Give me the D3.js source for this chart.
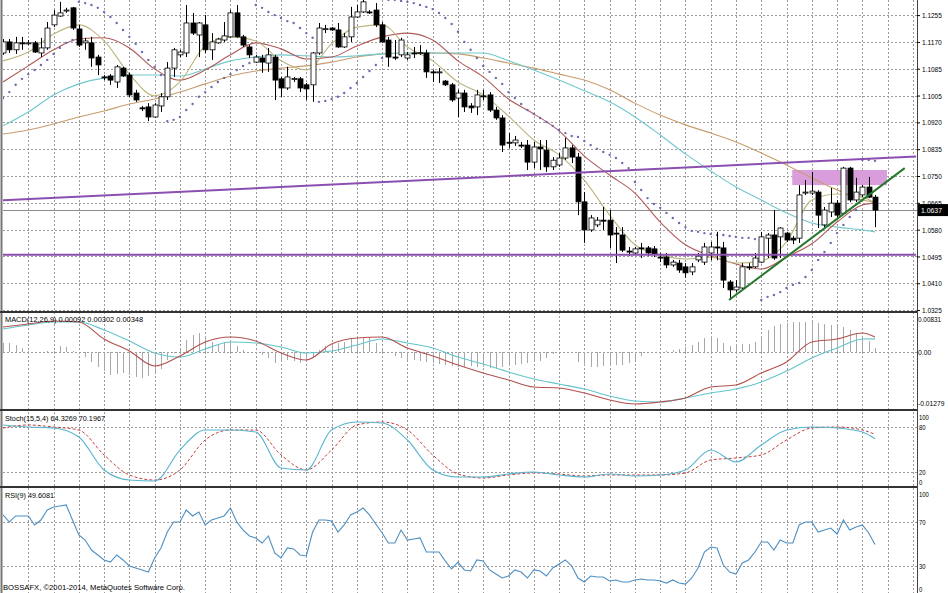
<!DOCTYPE html>
<html>
<head>
<meta charset="utf-8">
<script src="https://cdn.jsdelivr.net/npm/d3@7"></script>
<style>
  body{margin:0;background:#fff;}
  svg{display:block;}
  text{font-family:"Liberation Sans",Arial,sans-serif;font-size:8px;fill:#000;}
</style>
</head>
<body>
<svg width="948" height="593"></svg>
<script>

// candles [open, high, low, close]
const candles=[
[1.1135,1.1179,1.1129,1.1170],[1.1170,1.1179,1.1135,1.1145],[1.1145,1.1186,1.1132,1.1167],[1.1167,1.1186,1.1145,1.1166],
[1.1166,1.1176,1.1160,1.1167],[1.1167,1.1173,1.1135,1.1138],[1.1135,1.1183,1.1122,1.1151],[1.1151,1.1233,1.1145,1.1214],
[1.1224,1.1271,1.1217,1.1255],[1.1252,1.1297,1.1249,1.1262],[1.1268,1.1278,1.1262,1.1271],[1.1278,1.1281,1.1208,1.1214],
[1.1211,1.1224,1.1154,1.1160],[1.1167,1.1183,1.1145,1.1173],[1.1167,1.1186,1.1091,1.1119],[1.1122,1.1129,1.1065,1.1097],
[1.1059,1.1065,1.1049,1.1058],[1.1062,1.1068,1.1034,1.1049],[1.1043,1.1097,1.1024,1.1091],[1.1087,1.1091,1.1059,1.1062],
[1.1065,1.1072,1.0996,1.1002],[1.1008,1.1018,1.0980,1.0986],[1.0961,1.0967,1.0951,1.0960],[1.0964,1.0976,1.0919,1.0932],
[1.0932,1.0976,1.0929,1.0970],[1.0967,1.1008,1.0948,1.0996],[1.0996,1.1106,1.0986,1.1087],[1.1087,1.1151,1.1059,1.1145],
[1.1129,1.1145,1.1122,1.1138],[1.1135,1.1287,1.1122,1.1230],[1.1230,1.1262,1.1192,1.1198],[1.1192,1.1233,1.1122,1.1230],
[1.1224,1.1255,1.1135,1.1145],[1.1145,1.1198,1.1113,1.1170],[1.1167,1.1183,1.1164,1.1179],[1.1176,1.1233,1.1170,1.1189],
[1.1186,1.1271,1.1183,1.1262],[1.1262,1.1287,1.1183,1.1186],[1.1186,1.1192,1.1154,1.1160],[1.1154,1.1160,1.1119,1.1129],
[1.1106,1.1129,1.1103,1.1122],[1.1119,1.1129,1.1072,1.1106],[1.1103,1.1151,1.1075,1.1129],[1.1122,1.1129,1.0986,1.1049],
[1.1053,1.1059,1.0996,1.1024],[1.1024,1.1091,1.1018,1.1059],[1.1053,1.1059,1.1043,1.1054],[1.1053,1.1059,1.1011,1.1024],
[1.1034,1.1040,1.0986,1.1021],[1.1034,1.1138,1.0980,1.1135],[1.1135,1.1230,1.1129,1.1214],[1.1211,1.1224,1.1198,1.1212],
[1.1214,1.1217,1.1205,1.1208],[1.1208,1.1230,1.1151,1.1154],[1.1154,1.1198,1.1151,1.1186],[1.1186,1.1281,1.1170,1.1249],
[1.1249,1.1287,1.1246,1.1265],[1.1265,1.1303,1.1262,1.1297],[1.1265,1.1271,1.1259,1.1264],[1.1271,1.1293,1.1217,1.1224],
[1.1224,1.1233,1.1167,1.1170],[1.1176,1.1186,1.1091,1.1122],[1.1122,1.1176,1.1113,1.1121],[1.1129,1.1183,1.1122,1.1176],
[1.1119,1.1138,1.1113,1.1129],[1.1135,1.1154,1.1119,1.1134],[1.1135,1.1160,1.1129,1.1136],[1.1135,1.1145,1.1056,1.1075],
[1.1075,1.1081,1.1043,1.1074],[1.1074,1.1087,1.1040,1.1075],[1.1046,1.1049,1.1030,1.1034],[1.1034,1.1040,1.0980,1.0986],
[1.0992,1.1018,1.0932,1.1008],[1.1008,1.1018,1.0948,1.0964],[1.0967,1.0976,1.0945,1.0961],[1.0964,1.1018,1.0938,1.1002],
[1.0999,1.1018,1.0986,1.0998],[1.1002,1.1011,1.0948,1.0954],[1.0954,1.0964,1.0923,1.0929],[1.0929,1.0938,1.0821,1.0843],
[1.0852,1.0881,1.0834,1.0851],[1.0850,1.0872,1.0840,1.0859],[1.0843,1.0853,1.0834,1.0842],[1.0843,1.0859,1.0764,1.0789],
[1.0789,1.0853,1.0770,1.0837],[1.0837,1.0859,1.0764,1.0831],[1.0827,1.0859,1.0758,1.0774],[1.0774,1.0805,1.0764,1.0795],
[1.0780,1.0818,1.0774,1.0802],[1.0802,1.0866,1.0796,1.0834],[1.0834,1.0843,1.0786,1.0805],[1.0805,1.0818,1.0621,1.0663],
[1.0663,1.0694,1.0533,1.0574],[1.0574,1.0621,1.0568,1.0612],[1.0590,1.0615,1.0583,1.0605],[1.0605,1.0647,1.0574,1.0604],
[1.0605,1.0637,1.0517,1.0558],[1.0564,1.0583,1.0469,1.0563],[1.0558,1.0583,1.0504,1.0510],[1.0507,1.0520,1.0491,1.0506],
[1.0501,1.0520,1.0495,1.0514],[1.0517,1.0533,1.0485,1.0516],[1.0517,1.0523,1.0491,1.0501],[1.0514,1.0523,1.0488,1.0498],
[1.0488,1.0501,1.0472,1.0487],[1.0488,1.0501,1.0453,1.0463],[1.0463,1.0479,1.0457,1.0472],[1.0469,1.0479,1.0438,1.0447],
[1.0457,1.0469,1.0422,1.0438],[1.0441,1.0469,1.0431,1.0457],[1.0479,1.0501,1.0472,1.0491],[1.0472,1.0533,1.0463,1.0520],
[1.0501,1.0536,1.0478,1.0520],[1.0520,1.0568,1.0478,1.0517],[1.0517,1.0536,1.0390,1.0415],[1.0409,1.0415,1.0352,1.0384],
[1.0384,1.0415,1.0377,1.0393],[1.0390,1.0469,1.0384,1.0457],[1.0457,1.0469,1.0447,1.0456],[1.0457,1.0501,1.0453,1.0485],
[1.0472,1.0568,1.0469,1.0552],[1.0548,1.0564,1.0485,1.0558],[1.0558,1.0637,1.0479,1.0485],[1.0552,1.0583,1.0485,1.0580],
[1.0564,1.0568,1.0536,1.0542],[1.0548,1.0555,1.0529,1.0542],[1.0548,1.0716,1.0533,1.0685],[1.0691,1.0732,1.0685,1.0694],
[1.0691,1.0758,1.0685,1.0697],[1.0694,1.0700,1.0580,1.0621],[1.0590,1.0647,1.0583,1.0637],[1.0631,1.0707,1.0615,1.0659],
[1.0659,1.0669,1.0612,1.0621],[1.0627,1.0774,1.0621,1.0770],[1.0770,1.0774,1.0662,1.0669],[1.0669,1.0739,1.0662,1.0694],
[1.0685,1.0717,1.0678,1.0710],[1.0710,1.0742,1.0675,1.0678],[1.0678,1.0685,1.0583,1.0637]
];

const sampleBars=[0,4,8,12,16,20,24,28,32,36,40,44,48,52,56,60,64,68,72,76,80,84,88,92,96,100,104,108,112,116,120,124,128,132,136,138];

const maFast=[1.1110,1.1138,1.1195,1.1224,1.1173,1.1068,1.0999,1.1043,1.1157,1.1186,1.1173,1.1110,1.1081,1.1164,1.1217,1.1224,1.1154,1.1110,1.1043,1.1002,1.0935,1.0859,1.0812,1.0732,1.0621,1.0527,1.0495,1.0482,1.0488,1.0469,1.0476,1.0536,1.0669,1.0688,1.0678,1.0659];
const maMid=[1.1043,1.1094,1.1145,1.1179,1.1183,1.1151,1.1084,1.1049,1.1081,1.1129,1.1167,1.1148,1.1116,1.1122,1.1157,1.1186,1.1198,1.1176,1.1110,1.1059,1.0989,1.0942,1.0888,1.0808,1.0748,1.0691,1.0599,1.0527,1.0492,1.0466,1.0450,1.0488,1.0530,1.0599,1.0653,1.0659];
const maSlow=[1.0904,1.0948,1.1002,1.1037,1.1056,1.1065,1.1065,1.1062,1.1084,1.1110,1.1122,1.1129,1.1126,1.1122,1.1126,1.1132,1.1135,1.1135,1.1135,1.1135,1.1110,1.1081,1.1049,1.1015,1.0980,1.0932,1.0875,1.0815,1.0761,1.0710,1.0669,1.0628,1.0596,1.0583,1.0574,1.0568];
const maLong=[1.0878,1.0891,1.0910,1.0932,1.0951,1.0973,1.0989,1.1011,1.1037,1.1062,1.1078,1.1087,1.1094,1.1106,1.1122,1.1132,1.1135,1.1135,1.1132,1.1119,1.1103,1.1087,1.1068,1.1049,1.1018,1.0976,1.0938,1.0907,1.0881,1.0853,1.0818,1.0780,1.0739,1.0701,1.0669,1.0663];

// parabolic SAR, one per bar
const sar=[
1.0992,1.1011,1.1034,1.1053,1.1068,1.1081,1.1097,1.1113,1.1132,1.1151,1.1167,1.1176,
1.1297,1.1293,1.1287,1.1278,1.1265,1.1249,1.1230,1.1208,1.1186,1.1164,1.1138,1.1113,1.1091,1.1065,
1.0919,1.0923,1.0932,1.0954,1.0973,1.0996,1.1011,1.1027,1.1043,1.1056,1.1068,1.1081,1.1094,1.1103,
1.1287,1.1278,1.1265,1.1255,1.1246,1.1236,1.1230,1.1214,1.1198,1.1183,
1.0980,1.0983,1.0989,1.0996,1.1008,1.1024,1.1040,1.1059,1.1078,1.1097,1.1119,
1.1303,1.1303,1.1300,1.1297,1.1293,1.1287,1.1281,1.1274,1.1262,1.1246,1.1227,1.1202,1.1170,1.1145,1.1119,
1.1094,1.1075,1.1056,1.1037,1.1011,1.0992,1.0973,1.0954,1.0942,1.0929,1.0916,1.0904,1.0891,1.0881,1.0872,
1.0869,1.0856,1.0843,1.0831,1.0821,1.0812,1.0802,1.0786,1.0770,1.0726,1.0701,1.0675,1.0656,1.0644,1.0628,
1.0612,1.0596,1.0583,1.0571,1.0568,1.0564,1.0561,1.0558,1.0558,1.0555,1.0552,1.0549,1.0549,1.0545,
1.0352,1.0362,1.0368,1.0377,1.0390,1.0400,1.0406,1.0425,1.0447,1.0479,1.0504,1.0533,1.0564,1.0590,1.0615,1.0637,
1.0796,1.0796,1.0793
];

const priceTickLabels=["1.1255","1.1170","1.1085","1.1005","1.0920","1.0835","1.0750","1.0665","1.0580","1.0495","1.0410","1.0325"];
const lastPrice=1.0637;

// drawn objects: upper channel line, support line, green trend, pink zone
const resistLine=[[0,1.0668],[144.5,1.0807]];
const supportLine=[[0,1.0495],[144.5,1.0495]];
const trendLine=[[114.9,1.0352],[142.7,1.0770]];
const zoneBox={from:124.9,to:139.9,low:1.0716,high:1.0764};

// MACD
const macdHist=[
0.00207,0.00207,0.00161,0.00092,0.00023,0,0,0.00023,0.00023,0.00138,0.00115,0.00023,0,
-0.00115,-0.0023,-0.00345,-0.00437,-0.00529,-0.00506,-0.00483,-0.00529,-0.00575,-0.00598,-0.00552,-0.00483,-0.00391,-0.00184,-0.00023,0.00046,
0.00276,0.00391,0.00437,0.00368,0.0023,0.00184,0.0023,0.00276,0.00138,0.00046,0,
-0.00023,-0.00069,-0.00138,-0.00253,-0.0023,-0.00184,-0.00207,-0.00253,-0.0023,-0.00115,
0.00046,0.00138,0.00184,0.00207,0.0023,0.00299,0.00345,0.00322,0.00345,0.00207,0.00046,
0,-0.00092,-0.00138,-0.00184,-0.00184,-0.00207,-0.0023,-0.00253,-0.00276,-0.00299,-0.00322,-0.00345,-0.00345,-0.00322,
-0.00345,-0.00345,-0.00368,-0.00368,-0.00345,-0.00322,-0.00299,-0.00276,-0.00253,-0.0023,-0.00207,-0.00138,-0.00046,0,
0,-0.00023,-0.0023,-0.00322,-0.00345,-0.00345,-0.00322,-0.00322,-0.00299,-0.00299,-0.00253,-0.00184,-0.00092,-0.00023,
0,0,0.00023,0.00046,0.00069,0.00115,0.00161,0.0023,0.00322,0.00368,0.00322,0.00207,0.00138,0.00161,0.00184,0.00184,
0.0023,0.00322,0.00506,0.00598,0.00644,0.00667,0.0069,0.0069,0.0069,0.0069,0.00667,0.00644,0.00621,0.00598,0.00575,
0.00506,0.00437,0.00345,0.00253,0.00092
];
const macdRed=[0.00575,0.00644,0.00713,0.0069,0.00299,0.00023,-0.00322,-0.00092,0.0023,0.00345,0.00253,-0.00023,-0.00184,0.00184,0.00322,0.00345,0.00092,-0.00092,-0.00299,-0.00483,-0.00644,-0.00805,-0.00828,-0.00943,-0.01103,-0.01195,-0.01149,-0.01057,-0.00805,-0.00759,-0.00483,-0.0023,0.0023,0.00299,0.00437,0.00348];
const macdCyan=[0.00529,0.00621,0.0069,0.0069,0.00506,0.00253,-0.00023,-0.00115,0.00069,0.0023,0.00207,0.00115,-0.00023,0.00023,0.00161,0.00299,0.00207,0.00092,-0.00115,-0.00276,-0.0046,-0.00621,-0.00736,-0.00851,-0.01011,-0.01126,-0.01149,-0.01057,-0.00943,-0.00851,-0.0069,-0.00437,-0.00138,0.00092,0.00299,0.00302];
const macdTicks=[0.00831,0,-0.01279];
const macdTickLabels=["0.00831","0.00","-0.01279"];

// Stochastic
const stochMain=[82.7,80,78.7,66.7,22.7,9.3,8,49.3,76,76,73.3,25.3,22.7,76,86.7,85.3,62.7,22.7,13.3,13.3,17.3,20,16,13.3,17.3,14.7,16,22.7,49.3,33.3,56,76,80,78.7,73.3,64.3];
const stochSignal=[78.7,82.7,80,76,42.7,16,9.3,22.7,62.7,76,76,42.7,22.7,49.3,82.7,86.7,76,42.7,17.3,12,16,18.7,17.3,14.7,16,16,16,18.7,36,38.7,42.7,62.7,78.7,80,76,70.2];
const stochTicks=[100,80,20,0];

// RSI(9), one per bar
const rsi=[
76.4,70.0,75.5,75.5,75.5,67.3,71.8,80.9,83.6,84.5,85.5,71.8,58.2,53.6,44.5,40.0,35.5,33.6,40.0,35.5,
30.0,28.2,26.4,24.5,37.3,46.4,60.9,70.0,70.0,80.9,75.5,79.1,67.3,71.8,73.6,75.5,82.7,70.0,62.7,57.3,
55.5,50.9,57.3,41.8,37.3,46.4,45.5,40.0,39.1,60.9,71.8,71.8,70.9,60.9,67.3,76.4,79.1,82.7,76.4,68.2,
60.0,50.9,50.9,62.7,53.6,54.5,55.5,42.7,42.7,42.7,34.5,27.3,33.6,26.4,25.5,35.5,34.5,26.4,22.7,19.1,
20.9,26.4,24.5,19.1,26.4,25.5,20.9,28.2,31.8,35.5,30.0,19.1,15.5,20.9,20.0,20.0,16.4,17.3,15.5,15.5,
17.3,18.2,17.3,17.3,16.4,14.5,17.3,14.5,13.6,19.1,28.2,42.7,47.3,46.4,30.9,24.5,22.7,32.7,35.5,42.7,
51.8,51.8,44.5,53.6,50.9,50.9,67.3,70.0,70.0,60.9,62.7,64.5,59.1,71.8,62.7,65.5,67.3,60.0,49.6
];
const rsiTicks=[100,70,30,0];

const plotLeft=3, plotRight=917;
const panels={
  main:{top:0,bottom:311},
  macd:{top:313,bottom:409},
  stoch:{top:411,bottom:486},
  rsi:{top:488,bottom:593}
};

const xScale=d3.scaleLinear().domain([0,138]).range([3,875]);
const yPrice=d3.scaleLinear().domain([1.0325,1.1255]).range([308.5,15.1]);
const yMacd=d3.scaleLinear().domain([-0.01279,0.00831]).range([407.6,315.9]);
const yStoch=d3.scaleLinear().domain([0,100]).range([487,412]);
const yRsi=d3.scaleLinear().domain([0,100]).range([599,489]);

const svg=d3.select("svg");

const defs=svg.append("defs");
Object.entries(panels).forEach(([k,p])=>{
  defs.append("clipPath").attr("id","clip-"+k)
    .append("rect").attr("x",plotLeft).attr("y",p.top)
    .attr("width",plotRight-plotLeft).attr("height",p.bottom-p.top);
});

const gridColor="#9a9a9a";
const px=v=>Math.round(v)+0.5;

// vertical grid
const gridBars=d3.range(4,145,4);
svg.append("g").attr("class","vgrid")
  .selectAll("line").data(gridBars).enter().append("line")
  .attr("x1",d=>px(xScale(d))).attr("x2",d=>px(xScale(d)))
  .attr("y1",0).attr("y2",593)
  .attr("stroke",gridColor).attr("stroke-dasharray","2,2");

// horizontal grids
const priceTickPos=priceTickLabels.map((d,i)=>1.1255-i*0.0085);
const hgrid=svg.append("g").attr("class","hgrid");
const hLine=y=>hgrid.append("line").attr("x1",plotLeft).attr("x2",plotRight)
  .attr("y1",px(y)).attr("y2",px(y))
  .attr("stroke",gridColor).attr("stroke-dasharray","2,2");
priceTickPos.forEach(v=>hLine(yPrice(v)));
hLine(yMacd(0));
[80,20].forEach(v=>hLine(yStoch(v)));
[70,30].forEach(v=>hLine(yRsi(v)));

// main panel
const main=svg.append("g").attr("clip-path","url(#clip-main)");

main.append("rect")
  .attr("x",xScale(zoneBox.from)).attr("width",xScale(zoneBox.to)-xScale(zoneBox.from))
  .attr("y",yPrice(zoneBox.high)).attr("height",yPrice(zoneBox.low)-yPrice(zoneBox.high))
  .attr("fill","#d99ddc");

main.append("line")
  .attr("x1",plotLeft).attr("x2",plotRight)
  .attr("y1",px(yPrice(lastPrice))).attr("y2",px(yPrice(lastPrice)))
  .attr("stroke","#8c8c8c");

const maLine=d3.line()
  .x((d,i)=>xScale(sampleBars[i]))
  .y(d=>yPrice(d))
  .curve(d3.curveMonotoneX);

[[maLong,"#c99c6c"],[maSlow,"#70c8cc"],[maMid,"#b05a5a"],[maFast,"#bdb47e"]].forEach(([arr,col])=>{
  main.append("path").datum(arr).attr("d",maLine)
    .attr("fill","none").attr("stroke",col).attr("stroke-width",1.1);
});

main.append("g").selectAll("circle").data(sar).enter().append("circle")
  .attr("cx",(d,i)=>xScale(i)).attr("cy",d=>yPrice(d)).attr("r",1.2)
  .attr("fill","#6b6bb0");

const candle=main.append("g").selectAll("g").data(candles).enter().append("g");
candle.append("line")
  .attr("x1",(d,i)=>px(xScale(i))).attr("x2",(d,i)=>px(xScale(i)))
  .attr("y1",d=>yPrice(d[1])).attr("y2",d=>yPrice(d[2]))
  .attr("stroke","#000");
candle.append("rect")
  .attr("x",(d,i)=>Math.round(xScale(i))-2)
  .attr("width",5)
  .attr("y",d=>yPrice(Math.max(d[0],d[3])))
  .attr("height",d=>Math.max(1,Math.abs(yPrice(d[0])-yPrice(d[3]))))
  .attr("fill",d=>d[3]>=d[0]?"#fff":"#000")
  .attr("stroke","#000").attr("stroke-width",0.8);

const objLine=d3.line().x(d=>xScale(d[0])).y(d=>yPrice(d[1]));
main.append("path").datum(resistLine).attr("d",objLine).attr("stroke","#8a4fb0").attr("stroke-width",2).attr("fill","none");
main.append("path").datum(supportLine).attr("d",objLine).attr("stroke","#8a4fb0").attr("stroke-width",2).attr("fill","none");
main.append("path").datum(trendLine).attr("d",objLine).attr("stroke","#25782a").attr("stroke-width",2).attr("fill","none");

// MACD panel
const macdG=svg.append("g").attr("clip-path","url(#clip-macd)");
macdG.selectAll(".hist").data(macdHist).enter().append("line")
  .attr("x1",(d,i)=>px(xScale(i))).attr("x2",(d,i)=>px(xScale(i)))
  .attr("y1",yMacd(0)).attr("y2",d=>yMacd(d))
  .attr("stroke","#a8a8a8");
const macdLine=d3.line().x((d,i)=>xScale(sampleBars[i])).y(d=>yMacd(d)).curve(d3.curveMonotoneX);
macdG.append("path").datum(macdCyan).attr("d",macdLine).attr("fill","none").attr("stroke","#62c4cc").attr("stroke-width",1.1);
macdG.append("path").datum(macdRed).attr("d",macdLine).attr("fill","none").attr("stroke","#b2504e").attr("stroke-width",1.1);

// Stochastic panel
const stochG=svg.append("g").attr("clip-path","url(#clip-stoch)");
const stochLine=d3.line().x((d,i)=>xScale(sampleBars[i])).y(d=>yStoch(d)).curve(d3.curveMonotoneX);
stochG.append("path").datum(stochSignal).attr("d",stochLine).attr("fill","none").attr("stroke","#c2403c").attr("stroke-dasharray","3,2");
stochG.append("path").datum(stochMain).attr("d",stochLine).attr("fill","none").attr("stroke","#58b4d0").attr("stroke-width",1.1);

// RSI panel
const rsiG=svg.append("g").attr("clip-path","url(#clip-rsi)");
const rsiLine=d3.line().x((d,i)=>xScale(i)).y(d=>yRsi(d));
rsiG.append("path").datum(rsi).attr("d",rsiLine).attr("fill","none").attr("stroke","#4d8fc2").attr("stroke-width",1.1);

// frames
svg.append("line").attr("x1",1.5).attr("x2",1.5).attr("y1",0).attr("y2",593).attr("stroke","#777").attr("stroke-width",2);
svg.append("line").attr("x1",917.5).attr("x2",917.5).attr("y1",0).attr("y2",593).attr("stroke","#444");
[312,410,487].forEach(y=>{
  svg.append("line").attr("x1",0).attr("x2",917).attr("y1",y).attr("y2",y).attr("stroke","#333").attr("stroke-width",2);
});

// right axes
const axisG=svg.append("g").attr("transform","translate(917,0)");
axisG.append("g").attr("class","ax-price")
  .call(d3.axisRight(yPrice).tickValues(priceTickPos).tickFormat((d,i)=>priceTickLabels[i]).tickSize(3).tickPadding(2));
axisG.append("g").attr("class","ax-macd")
  .call(d3.axisRight(yMacd).tickValues(macdTicks).tickFormat((d,i)=>macdTickLabels[i]).tickSize(0).tickPadding(1));
axisG.append("g").attr("class","ax-stoch")
  .call(d3.axisRight(yStoch).tickValues(stochTicks).tickFormat(d3.format("d")).tickSize(0).tickPadding(2));
axisG.append("g").attr("class","ax-rsi")
  .call(d3.axisRight(yRsi).tickValues(rsiTicks).tickFormat(d3.format("d")).tickSize(0).tickPadding(2));
axisG.selectAll(".domain").remove();
axisG.selectAll(".tick line").attr("stroke","#000");
axisG.selectAll(".tick text")
  .style("font-size","8px").style("font-family","Liberation Sans, Arial, sans-serif")
  .attr("textLength",function(){return this.textContent.length*3.3;})
  .attr("lengthAdjust","spacingAndGlyphs");
axisG.select(".ax-macd").selectAll(".tick text").style("font-size","7px");

// keep the end labels inside their panels
axisG.select(".ax-macd").selectAll(".tick").filter(d=>d===0.00831).select("text").attr("dy","0.8em");
axisG.select(".ax-macd").selectAll(".tick").filter(d=>d===-0.01279).select("text").attr("dy","-0.35em");
axisG.select(".ax-stoch").selectAll(".tick").filter(d=>d===100).select("text").attr("dy","0.95em");
axisG.select(".ax-stoch").selectAll(".tick").filter(d=>d===0).select("text").attr("dy","-0.35em");
axisG.select(".ax-rsi").selectAll(".tick").filter(d=>d===100).select("text").attr("dy","0.95em");
axisG.select(".ax-rsi").selectAll(".tick").filter(d=>d===0).select("text").attr("dy","-0.9em");

// last price box
svg.append("rect").attr("x",918).attr("y",yPrice(lastPrice)-6).attr("width",30).attr("height",12).attr("fill","#000");
svg.append("text").attr("x",921).attr("y",yPrice(lastPrice)+3).text(lastPrice.toFixed(4))
  .attr("textLength",21).attr("lengthAdjust","spacingAndGlyphs").style("fill","#fff");

// indicator captions
const caption=(x,y,t,w)=>svg.append("text").attr("x",x).attr("y",y).text(t)
  .attr("textLength",w).attr("lengthAdjust","spacingAndGlyphs");
caption(5,322,"MACD(12,26,9) 0.00092 0.00302 0.00348",138);
caption(5,421,"Stoch(15,5,4) 64.3269 70.1967",100);
caption(5,498,"RSI(9) 49.6081",49);
caption(3,590,"BOSSAFX, \u00a92001-2014, MetaQuotes Software Corp.",182);

</script>
</body>
</html>
